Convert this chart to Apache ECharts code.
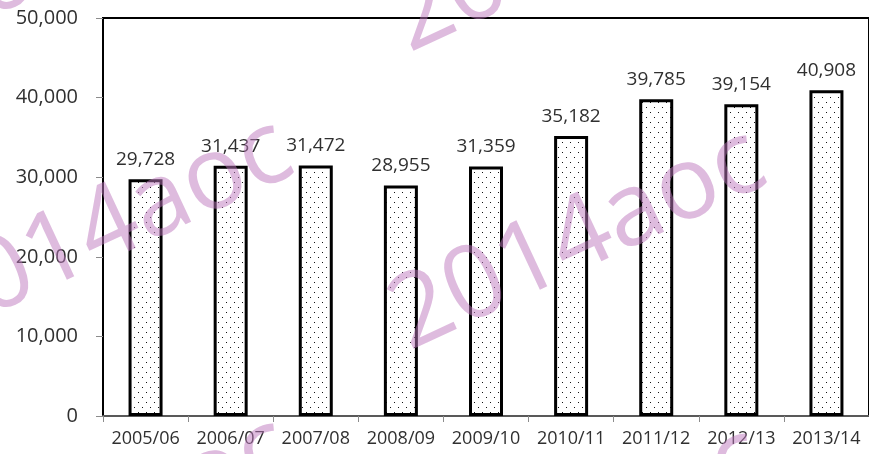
<!DOCTYPE html>
<html>
<head>
<meta charset="utf-8">
<script src="https://cdn.jsdelivr.net/npm/echarts@6/dist/echarts.min.js"></script>
<style>
  html, body { margin: 0; padding: 0; background: #fff; }
  #chart { width: 869px; height: 454px; }
</style>
</head>
<body>
<div id="chart"></div>
<script>
// 年度 / 数值
var years = ['2005/06', '2006/07', '2007/08', '2008/09', '2009/10', '2010/11', '2011/12', '2012/13', '2013/14'];
var totals = [29728, 31437, 31472, 28955, 31359, 35182, 39785, 39154, 40908];
var yTicks = [0, 10000, 20000, 30000, 40000, 50000];
var watermark = '2014aoc';

var fmt = function(v){
    return Number(v).toLocaleString('en-US');
};

// 点状填充
var makeDots = function(){
    var c = document.createElement('canvas');
    c.width = 8;
    c.height = 10;
    var ctx = c.getContext('2d');
    ctx.fillStyle = '#fff';
    ctx.fillRect(0, 0, 8, 10);
    ctx.fillStyle = '#111';
    ctx.fillRect(2, 2, 1, 1);
    ctx.fillRect(6, 7, 1, 1);
    return c;
};

// 水印
var marks = [[578, 240], [105, 230], [578, -58], [105, -68], [105, 528], [578, 538]];
var graphics = marks.map(function(p){
    return {
        type: 'text',
        x: p[0],
        y: p[1],
        rotation: 25 * Math.PI / 180,
        z: 100,
        silent: true,
        style: {
            text: watermark,
            font: '102px "Open Sans"',
            fill: 'rgb(190,120,190)',
            opacity: 0.5,
            align: 'center',
            verticalAlign: 'middle'
        }
    };
});

var chart = echarts.init(document.getElementById('chart'));
chart.setOption({
    animation: false,
    backgroundColor: '#fff',
    grid: {
        left: 103, right: -2, top: 18, bottom: 38,
        show: true, borderColor: '#000', borderWidth: 2,
        containLabel: false
    },
    xAxis: {
        type: 'category',
        data: years,
        axisLine: { lineStyle: { color: '#595959', width: 2 } },
        axisTick: { show: true, length: 6, lineStyle: { color: '#8c8c8c' } },
        axisLabel: { color: '#303030', fontFamily: 'Open Sans', fontSize: 18, margin: 14, interval: 0 }
    },
    yAxis: {
        type: 'value',
        min: yTicks[0],
        max: yTicks[yTicks.length - 1],
        interval: yTicks[1] - yTicks[0],
        splitLine: { show: false },
        axisLine: { show: true, lineStyle: { color: '#000', width: 2 } },
        axisTick: { show: true, length: 7, lineStyle: { color: '#8c8c8c' } },
        axisLabel: { color: '#303030', fontFamily: 'Open Sans', fontSize: 20, margin: 25, formatter: fmt }
    },
    series: [{
        type: 'bar',
        data: totals,
        barWidth: 34,
        itemStyle: {
            color: { image: makeDots(), repeat: 'repeat' },
            borderColor: '#000',
            borderWidth: 3
        },
        label: {
            show: true,
            position: 'top',
            distance: 10,
            color: '#303030',
            fontFamily: 'Open Sans',
            fontSize: 19,
            formatter: function(p){ return fmt(p.value); }
        }
    }],
    graphic: graphics
});
</script>
</body>
</html>
